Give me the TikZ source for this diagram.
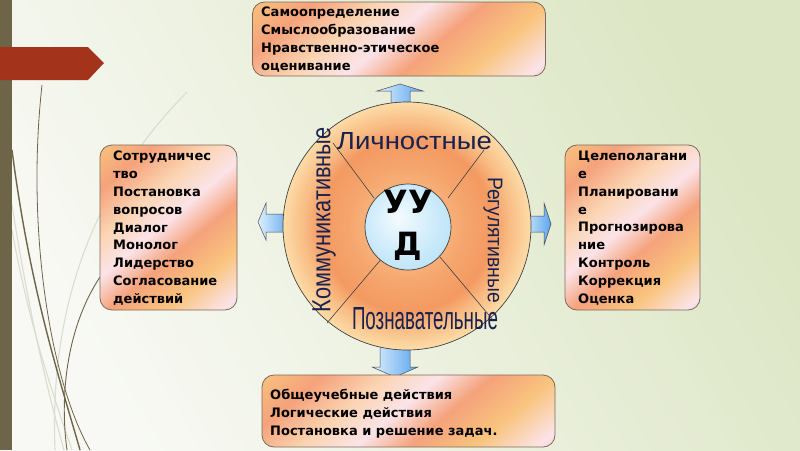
\documentclass[tikz,border=0pt]{standalone}
\usepackage{fontspec}
\setmainfont{DejaVu Sans}
\newfontfamily\labfont{Liberation Sans}
\usepackage{graphicx}
\usetikzlibrary{shadings}
\definecolor{bgA}{HTML}{F8F9F4}
\definecolor{bgB}{HTML}{DCE6C4}
\definecolor{barc}{HTML}{6E6549}
\definecolor{bannerc}{HTML}{A3331B}
\definecolor{curvedark}{HTML}{6E6549}
\definecolor{curvelight}{HTML}{DADCCD}
\definecolor{boxline}{HTML}{7B6A5C}
\definecolor{bxA}{HTML}{FBE3E8}
\definecolor{bxB}{HTML}{F9C47E}
\definecolor{bxC}{HTML}{F5A27B}
\definecolor{bxD}{HTML}{FBD4B2}
\definecolor{rgA}{HTML}{F7B27C}
\definecolor{rgB}{HTML}{F5A56C}
\definecolor{rgC}{HTML}{F39A62}
\definecolor{rgD}{HTML}{F9C088}
\definecolor{rgE}{HTML}{FDDCA8}
\definecolor{hbA}{HTML}{F4FBFF}
\definecolor{hbB}{HTML}{C9E9FA}
\definecolor{hbC}{HTML}{9CD4F2}
\definecolor{arrL}{HTML}{DDEFFD}
\definecolor{arrR}{HTML}{5AA5EE}
\definecolor{labc}{HTML}{19224F}
\pgfdeclarehorizontalshading{boxstripes}{100bp}{color(0bp)=(bxA); color(14bp)=(bxB); color(26bp)=(bxC); color(38bp)=(bxD); color(48bp)=(bxA); color(58bp)=(bxC); color(70bp)=(bxB); color(82bp)=(bxA); color(92bp)=(bxC); color(100bp)=(bxD)}
\pgfdeclareradialshading{hubshade}{\pgfpoint{-6bp}{6bp}}{color(0bp)=(hbA); color(22bp)=(hbB); color(50bp)=(hbC)}
\tikzset{
  stripebox/.style={draw=boxline, line width=0.8pt, rounded corners=12pt, shading=boxstripes, shading angle=-50},
  boxtext/.style={inner sep=0pt, align=left, font=\bfseries\fontsize{13}{17.8}\selectfont, text=black},
  blockarrow/.style={draw=black!70, line width=0.5pt, left color=arrL, right color=arrR},
  sector/.style={draw=black!75, line width=0.6pt},
  seclabel/.style={inner sep=0pt, text=labc, font=\labfont},
  darkcurve/.style={draw=curvedark, line width=1.1pt},
  lightcurve/.style={draw=curvelight, line width=1.1pt}
}
\begin{document}
\begin{tikzpicture}[x=1pt,y=-1pt]
\useasboundingbox (0,0) rectangle (800,450);
% background
\shade[left color=bgA, right color=bgB, shading angle=120] (0,0) rectangle (800,450);
% decorative curves
\draw[lightcurve] (12,230) .. controls (30,330) and (55,400) .. (72,450);
\draw[lightcurve] (12,205) .. controls (30,320) and (50,400) .. (64,450);
\draw[lightcurve] (187,92) .. controls (80,200) and (50,330) .. (55,450);
\draw[darkcurve, line width=0.8pt] (42,85) .. controls (26,230) and (50,380) .. (90,450);
\draw[darkcurve, line width=1.4pt] (12,150) .. controls (30,290) and (60,380) .. (80,450);
\draw[darkcurve, line width=0.9pt] (100,277) .. controls (65,330) and (60,400) .. (67,450);
% left bar and banner
\fill[barc] (0,0) rectangle (12,450);
\fill[bannerc] (0,47) -- (88,47) -- (104,63) -- (88,80) -- (0,80) -- cycle;
% block arrows
\path[blockarrow] (391,112) -- (391,91) -- (377,91) -- (400,84) -- (423,91) -- (410,91) -- (410,112) -- cycle;
\path[blockarrow] (380,340) -- (380,367) -- (372,367) -- (395,377) -- (418,367) -- (410,367) -- (410,340) -- cycle;
\path[blockarrow] (292,214) -- (266,214) -- (266,203) -- (258,222) -- (266,240) -- (266,232) -- (292,232) -- cycle;
\path[blockarrow] (522,216) -- (544,216) -- (544,203) -- (551,224) -- (544,245) -- (544,232) -- (522,232) -- cycle;
% circle with concentric gradient
\coordinate (rc) at (407,226);
\foreach \r in {124,123,...,106} {\pgfmathsetmacro\p{(124-\r)/18*100}\fill[rgD!\p!rgE] (rc) circle (\r);}
\foreach \r in {105,104,...,86} {\pgfmathsetmacro\p{(105-\r)/19*100}\fill[rgC!\p!rgD] (rc) circle (\r);}
\foreach \r in {85,84,...,61} {\pgfmathsetmacro\p{(85-\r)/24*100}\fill[rgB!\p!rgC] (rc) circle (\r);}
\foreach \r in {60,59,...,40} {\pgfmathsetmacro\p{(60-\r)/20*100}\fill[rgA!\p!rgB] (rc) circle (\r);}
\node[circle, draw=black!75, line width=0.7pt, minimum size=248pt, inner sep=0pt] (ring) at (rc) {};
\coordinate (nwo) at (333,143); \coordinate (nwi) at (374,198);
\coordinate (neo) at (484,150); \coordinate (nei) at (448,198);
\coordinate (swo) at (327,323); \coordinate (swi) at (383,257);
\coordinate (seo) at (493,320); \coordinate (sei) at (440,257);
\draw[sector] (nwo) -- (nwi);
\draw[sector] (neo) -- (nei);
\draw[sector] (swo) -- (swi);
\draw[sector] (seo) -- (sei);
\node[circle, draw=black!75, line width=0.7pt, shading=hubshade, minimum size=86pt, inner sep=0pt] (hub) at (408,227) {};
\node[inner sep=0pt, font=\bfseries\fontsize{32}{42}\selectfont, align=center] (uud) at (408,225) {УУ\\Д};
% sector labels
\node[seclabel] (lich) at (414.5,141.5) {\resizebox{155pt}{17pt}{Личностные}};
\node[seclabel] (pozn) at (425,319) {\resizebox{146pt}{22pt}{Познавательные}};
\node[seclabel, rotate=90] (komm) at (324,220) {\resizebox{185pt}{18pt}{Коммуникативные}};
\node[seclabel, rotate=-90] (regu) at (493,240) {\resizebox*{126pt}{19pt}{Регулятивные}};
% boxes
\node[stripebox, minimum width=293pt, minimum height=74pt] (topbox) at (399,39) {};
\node[boxtext, anchor=north west] (toptext) at (261,7) {Самоопределение\\Смыслообразование\\Нравственно-этическое\\оценивание};
\node[stripebox, minimum width=137pt, minimum height=165pt] (leftbox) at (168.5,227.5) {};
\node[boxtext, anchor=north west] (lefttext) at (113,151) {Сотрудничес\\тво\\Постановка\\вопросов\\Диалог\\Монолог\\Лидерство\\Согласование\\действий};
\node[stripebox, minimum width=135pt, minimum height=165pt] (rightbox) at (632.5,227.5) {};
\node[boxtext, anchor=north west] (righttext) at (578,151) {Целеполагани\\е\\Планировани\\е\\Прогнозирова\\ние\\Контроль\\Коррекция\\Оценка};
\node[stripebox, minimum width=293pt, minimum height=72pt] (botbox) at (408.5,411) {};
\node[boxtext, anchor=north west] (bottext) at (270,389) {Общеучебные действия\\Логические действия\\Постановка и решение задач.};
\end{tikzpicture}
\end{document}
